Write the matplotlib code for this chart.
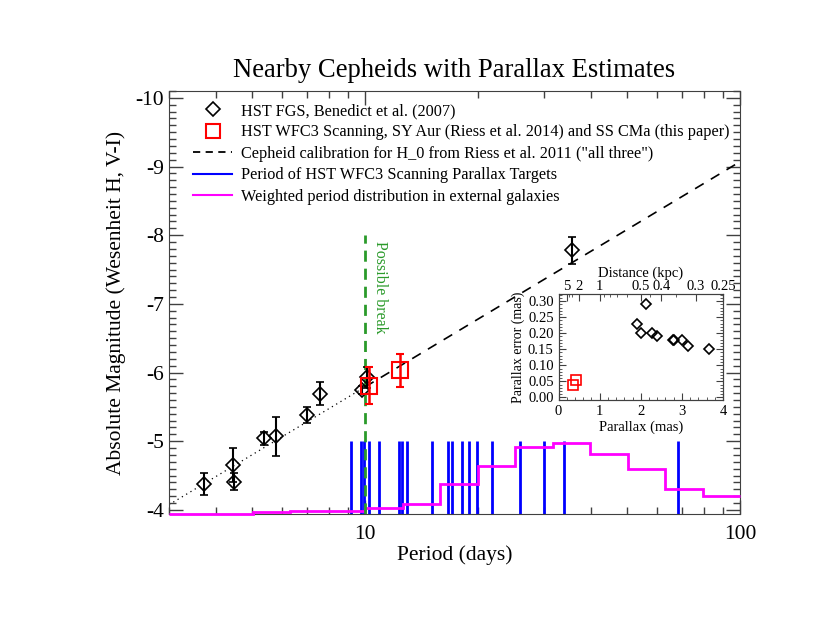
import numpy as np
import matplotlib
matplotlib.use("Agg")
import matplotlib.pyplot as plt
from matplotlib.ticker import FixedLocator, NullFormatter, MultipleLocator, FuncFormatter
from matplotlib.lines import Line2D

plt.rcParams['font.family'] = ['Liberation Serif', 'DejaVu Serif']
plt.rcParams['axes.unicode_minus'] = False

# HST FGS Cepheids (Benedict et al. 2007)
fgs_period = [3.73, 4.44, 4.47, 5.37, 5.77, 7.01, 7.59, 9.84, 10.15, 35.55]
fgs_mag = [-4.37, -4.65, -4.41, -5.04, -5.07, -5.38, -5.69, -5.74, -5.93, -7.78]
fgs_err = [0.16, 0.25, 0.12, 0.09, 0.28, 0.12, 0.17, 0.06, 0.15, 0.20]

# HST WFC3 scanning (SY Aur, SS CMa)
wfc3_period = [10.25, 12.36]
wfc3_mag = [-5.81, -6.03]
wfc3_err = [0.27, 0.24]

# calibration line M = zp + slope * (logP - 1)
cal_zp = -5.79
cal_slope = -3.28

# periods of scanning parallax targets
target_periods = [9.18, 9.76, 9.96, 10.25, 10.9, 12.35, 12.55, 12.94, 15.06, 16.62,
                  17.03, 18.15, 18.9, 19.93, 21.8, 25.9, 30.07, 33.95, 68.5]

# weighted period distribution in external galaxies (log P bin edges, level)
gal_logp_edges = [np.log10(3), 0.7, 0.8, 0.9, 1.0, 1.1, 1.2, 1.3, 1.4, 1.5, 1.6, 1.7, 1.8, 1.9, 2.0]
gal_level = [-3.942, -3.966, -3.99, -3.99, -4.03, -4.08, -4.38, -4.64, -4.91, -4.98,
             -4.82, -4.60, -4.31, -4.20]

# inset: parallax vs parallax error
fgs_plx = [2.01, 2.78, 3.14, 2.28, 3.00, 2.13, 3.66, 2.81, 1.90, 2.40]
fgs_plx_err = [0.20, 0.18, 0.16, 0.20, 0.18, 0.29, 0.15, 0.18, 0.23, 0.19]
wfc3_plx = [0.428, 0.348]
wfc3_plx_err = [0.054, 0.038]
dist_ticks = [5, 2, 1, 0.5, 0.4, 0.3, 0.25]
dist_labels = ['5', '2', '1', '0.5', '0.4', '0.3', '0.25']

fig = plt.figure(figsize=(8.3, 6.42), dpi=100)
ax = fig.add_axes([0.2036, 0.1994, 0.688, 0.6589])
frame = '0.25'

ax.set_xscale('log')
ax.set_xlim(3, 100)
ax.set_ylim(-3.94, -10.1)

# calibration: dotted below 10 d, dashed above
p_lo = np.array([3.0, 10.0])
p_hi = np.array([10.0, 100.0])
ax.plot(p_lo, cal_zp + cal_slope * (np.log10(p_lo) - 1), color='black', ls=(0, (1, 3)), lw=0.9)
ax.plot(p_hi, cal_zp + cal_slope * (np.log10(p_hi) - 1), color='black', ls=(0, (6, 5)), lw=1.2)

# target periods
ax.vlines(target_periods, -3.94, -5.0, color='blue', lw=2, zorder=2)

# galaxy distribution
ax.stairs(gal_level, 10 ** np.array(gal_logp_edges), baseline=None, color='magenta', lw=2,
          clip_on=False, zorder=3)

# possible break
ax.plot([10, 10], [-3.94, -8.0], color='#2a9a2a', ls=(0, (4, 2.5)), lw=2, zorder=3)
ax.text(10.45, -7.92, 'Possible break', rotation=270, color='#2a9a2a', fontsize=11.5,
        ha='left', va='top')

ax.errorbar(fgs_period, fgs_mag, yerr=fgs_err, fmt='D', ms=7.5, mfc='none', mec='black',
            mew=1.2, ecolor='black', elinewidth=1.5, capsize=3, zorder=5)
ax.errorbar(wfc3_period, wfc3_mag, yerr=wfc3_err, fmt='s', ms=11, mfc='none', mec='red',
            mew=1.5, ecolor='red', elinewidth=1.8, capsize=3, zorder=6)

ax.xaxis.set_major_locator(FixedLocator([10, 100]))
ax.xaxis.set_major_formatter(FuncFormatter(lambda v, p: '%d' % v))
ax.xaxis.set_minor_locator(FixedLocator([3, 4, 5, 6, 7, 8, 9, 20, 30, 40, 50, 60, 70, 80, 90]))
ax.xaxis.set_minor_formatter(NullFormatter())
ax.yaxis.set_major_locator(MultipleLocator(1))
ax.yaxis.set_minor_locator(MultipleLocator(0.1))
ax.yaxis.set_major_formatter(FuncFormatter(lambda v, p: '%d' % round(v)))
ax.tick_params(which='both', direction='in', top=True, right=True, colors=frame,
               labelcolor='black', labelsize=15.5)
ax.tick_params(which='major', length=10, width=1)
ax.tick_params(which='minor', length=5, width=1)
ax.tick_params(axis='x', pad=8)
for s in ax.spines.values():
    s.set_color(frame)

ax.set_xlabel('Period (days)', fontsize=15.5, labelpad=1)
ax.set_ylabel('Absolute Magnitude (Wesenheit H, V-I)', fontsize=15.5, labelpad=7)
ax.set_title('Nearby Cepheids with Parallax Estimates', fontsize=19.2, pad=10)

handles = [
    Line2D([], [], ls='none', marker='D', ms=7, mfc='none', mec='black', mew=1.2),
    Line2D([], [], ls='none', marker='s', ms=10, mfc='none', mec='red', mew=1.5),
    Line2D([], [], color='black', ls=(0, (4, 3)), lw=1.3),
    Line2D([], [], color='blue', lw=1.5),
    Line2D([], [], color='magenta', lw=1.5),
]
labels = [
    'HST FGS, Benedict et al. (2007)',
    'HST WFC3 Scanning, SY Aur (Riess et al. 2014) and SS CMa (this paper)',
    'Cepheid calibration for H_0 from Riess et al. 2011 ("all three")',
    'Period of HST WFC3 Scanning Parallax Targets',
    'Weighted period distribution in external galaxies',
]
ax.legend(handles, labels, loc='upper left', bbox_to_anchor=(0.02, 1.002), frameon=False,
          fontsize=11.7, handlelength=2.35, handletextpad=0.55, labelspacing=0.33, borderpad=0.3)

# inset
axi = fig.add_axes([0.6729, 0.3769, 0.1982, 0.1651])
axi.set_facecolor('white')
axi.set_xlim(0, 4)
axi.set_ylim(-0.008, 0.322)
axi.plot(fgs_plx, fgs_plx_err, ls='none', marker='D', ms=5.3, mfc='none', mec='black', mew=1.2)
axi.plot(wfc3_plx, wfc3_plx_err, ls='none', marker='s', ms=6.5, mfc='none', mec='red', mew=1.2)
axi.xaxis.set_major_locator(MultipleLocator(1))
axi.xaxis.set_minor_locator(MultipleLocator(0.2))
axi.yaxis.set_major_locator(MultipleLocator(0.05))
axi.yaxis.set_minor_locator(MultipleLocator(0.01))
axi.yaxis.set_major_formatter(FuncFormatter(lambda v, p: '%.2f' % abs(v)))
axi.tick_params(which='both', direction='in', right=True, colors=frame, labelcolor='black',
                labelsize=10.5)
axi.tick_params(which='major', length=5)
axi.tick_params(which='minor', length=2.5)
axi.set_xlabel('Parallax (mas)', fontsize=10.5, labelpad=2)
axi.set_ylabel('Parallax error (mas)', fontsize=10, labelpad=2)
for s in axi.spines.values():
    s.set_color(frame)

axt = axi.twiny()
axt.set_xlim(0, 4)
axt.set_xticks([1.0 / d for d in dist_ticks])
axt.set_xticklabels(dist_labels)
axt.xaxis.set_minor_locator(FixedLocator([1.0 / d for d in [4, 3, 0.9, 0.8, 0.7, 0.6, 0.45, 0.35]]))
axt.tick_params(which='both', direction='in', colors=frame, labelcolor='black', labelsize=10.5, pad=1)
axt.tick_params(which='major', length=5)
axt.tick_params(which='minor', length=2.5)
axt.set_xlabel('Distance (kpc)', fontsize=10.5, labelpad=2)
for s in axt.spines.values():
    s.set_color(frame)

fig.savefig('out.png', dpi=100)
